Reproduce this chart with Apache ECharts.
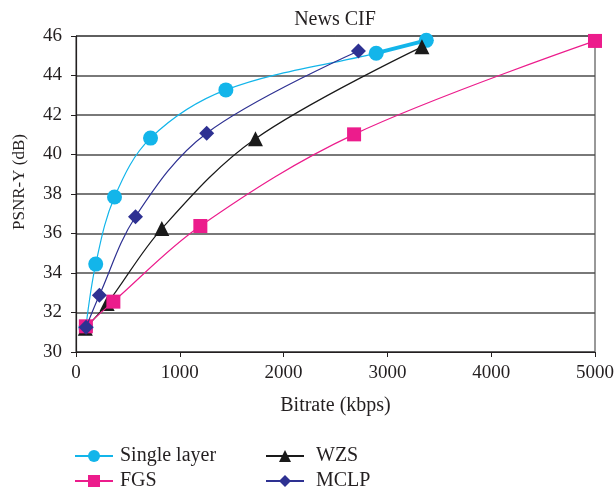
<!DOCTYPE html>
<html>
<head>
<meta charset="utf-8">
<script src="https://cdn.jsdelivr.net/npm/echarts@6/dist/echarts.min.js"></script>
<style>
  html, body { margin: 0; padding: 0; background: #fff; }
  #chart { width: 614px; height: 494px; }
</style>
</head>
<body>
<div id="chart"></div>
<script>
// values
const singleX = [95, 190, 371, 718, 1444, 2892, 3375];
const singleY = [31.25, 34.45, 37.85, 40.83, 43.27, 45.13, 45.78];
const fgsX = [95, 360, 1198, 2679, 5000];
const fgsY = [31.3, 32.55, 36.38, 41.02, 45.75];
const wzsX = [90, 300, 827, 1729, 3333];
const wzsY = [31.2, 32.45, 36.25, 40.8, 45.45];
const mclpX = [97, 225, 573, 1259, 2721];
const mclpY = [31.25, 32.87, 36.85, 41.08, 45.24];

const pairs = (xs, ys) => xs.map((x, i) => [x, ys[i]]);

const font = "'Liberation Serif', 'DejaVu Serif', serif";
const textColor = "#231f20";

let chart = echarts.init(document.getElementById("chart"));

function lineSeries(name, data, color, symbol, size, z) {
  return {
    name: name,
    type: "line",
    data: data,
    smooth: 0.35,
    symbol: symbol,
    symbolSize: size,
    z: z,
    lineStyle: { color: color, width: 1.2 },
    itemStyle: { color: color },
  };
}

function legendItem(name, left, top, gap) {
  return {
    data: [name],
    left: left,
    top: top,
    itemWidth: 38,
    itemHeight: 15,
    textStyle: { fontFamily: font, fontSize: 20, color: textColor, padding: [0, 0, 0, gap] },
  };
}

let option = {
  animation: false,
  textStyle: { fontFamily: font, color: textColor },
  title: {
    text: "News CIF",
    left: 330,
    textAlign: "center",
    top: 5,
    textStyle: { fontFamily: font, fontSize: 20, fontWeight: "normal", color: textColor },
  },
  grid: {
    left: 76,
    right: 19,
    top: 36,
    bottom: 142,
    outerBoundsMode: "none",
    show: true,
    borderColor: "#333",
    borderWidth: 1,
    backgroundColor: "transparent",
  },
  legend: [
    legendItem("Single layer", 69, 441, 2),
    legendItem("FGS", 69, 466, 2),
    legendItem("WZS", 260, 441, 7),
    legendItem("MCLP", 260, 466, 7),
  ],
  xAxis: {
    type: "value",
    min: 0,
    max: 5000,
    interval: 1000,
    name: "Bitrate (kbps)",
    nameLocation: "middle",
    nameGap: 44,
    nameTextStyle: { fontFamily: font, fontSize: 20, color: textColor },
    axisLine: { lineStyle: { color: "#231f20", width: 1.2 } },
    axisTick: { show: true, length: 5, lineStyle: { color: "#231f20" } },
    axisLabel: {
      fontFamily: font,
      fontSize: 19,
      color: textColor,
      margin: 12,
      formatter: (v) => String(v),
    },
    splitLine: { show: false },
  },
  yAxis: {
    type: "value",
    min: 30,
    max: 46,
    interval: 2,
    name: "PSNR-Y (dB)",
    nameLocation: "middle",
    nameGap: 48,
    nameTextStyle: { fontFamily: font, fontSize: 17, color: textColor, padding: [0, 0, 0, 24] },
    axisLine: { show: true, lineStyle: { color: "#231f20", width: 1.2 } },
    axisTick: { show: true, length: 5, lineStyle: { color: "#231f20" } },
    axisLabel: { fontFamily: font, fontSize: 19, color: textColor, margin: 14 },
    splitLine: { show: true, lineStyle: { color: "#4d4d4d", width: 1.5 } },
  },
  series: [
    lineSeries("Single layer", pairs(singleX, singleY), "#13b5ea", "circle", 15, 2),
    {
      name: "Single layer tail",
      type: "line",
      data: pairs(singleX.slice(-2), singleY.slice(-2)),
      symbol: "none",
      z: 2,
      lineStyle: { color: "#13b5ea", width: 4 },
    },
    lineSeries("WZS", pairs(wzsX, wzsY), "#1a1a1a", "triangle", 15, 3),
    lineSeries("FGS", pairs(fgsX, fgsY), "#ec1c8c", "rect", 14, 4),
    lineSeries("MCLP", pairs(mclpX, mclpY), "#2e3192", "diamond", 15, 5),
  ],
};
chart.setOption(option);
</script>
</body>
</html>
